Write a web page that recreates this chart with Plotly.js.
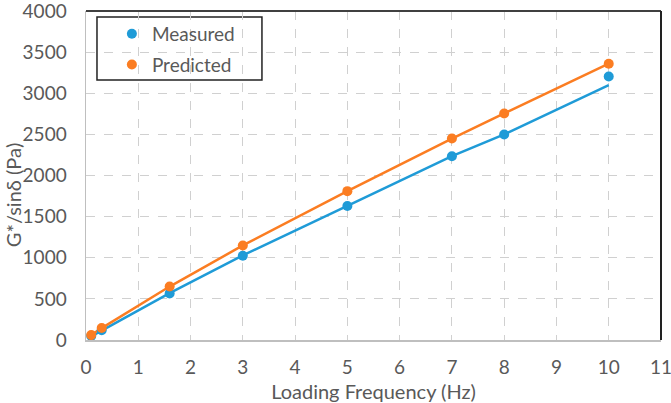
<!DOCTYPE html>
<html>
<head>
<meta charset="utf-8">
<script src="https://cdn.plot.ly/plotly-3.0.1.min.js"></script>
<style>
  html, body { margin: 0; padding: 0; background: #fff; }
  #chart { width: 671px; height: 403px; }
</style>
</head>
<body>
<div id="chart"></div>
<script>
// loading frequency (Hz)
var freq = [0.1, 0.3, 1.6, 3, 5, 7, 8, 10];
// G*/sin delta (Pa)
var measured = [48, 120, 565, 1025, 1630, 2235, 2500, 3205];
var predicted = [60, 145, 650, 1150, 1810, 2450, 2755, 3360];
// the drawn lines (measured line ends below the last point)
var measuredLine = [40, 115, 570, 1030, 1630, 2235, 2500, 3100];
var predictedLine = [60, 145, 650, 1150, 1810, 2450, 2755, 3360];

var blue = '#1f9bd7';
var orange = '#fb7d22';
var txt = '#595959';
var fam = 'Lato, "Open Sans", sans-serif';

var data = [
    {x: freq, y: measuredLine, mode: 'lines', line: {color: blue, width: 2.5}, showlegend: false, hoverinfo: 'skip'},
    {x: freq, y: predictedLine, mode: 'lines', line: {color: orange, width: 2.5}, showlegend: false, hoverinfo: 'skip'},
    {x: freq, y: measured, mode: 'markers', name: 'Measured', legendgroup: 'm',
        marker: {color: blue, size: 10}},
    {x: freq, y: predicted, mode: 'markers', name: 'Predicted', legendgroup: 'p',
        marker: {color: orange, size: 10}}
];

var tickFont = {family: fam, size: 19, color: txt};

var layout = {
    width: 671,
    height: 403,
    margin: {l: 86, r: 10, t: 11, b: 63},
    paper_bgcolor: '#fff',
    plot_bgcolor: '#fff',
    showlegend: true,
    font: {family: fam, color: txt},
    xaxis: {
        range: [0, 11],
        dtick: 1,
        tick0: 0,
        showgrid: true,
        gridcolor: '#d0d0d0',
        griddash: 'dash',
        gridwidth: 1,
        zeroline: false,
        showline: true,
        linecolor: '#bfbfbf',
        linewidth: 1.5,
        ticks: '',
        ticklabelstandoff: 10,
        ticklabeloverflow: 'allow',
        tickfont: tickFont,
        title: {text: 'Loading Frequency (Hz)', font: {size: 20, color: txt}, standoff: 8}
    },
    yaxis: {
        range: [0, 4001],
        tickvals: [0, 500, 1000, 1500, 2000, 2500, 3000, 3500, 4000],
        showgrid: true,
        gridcolor: '#d0d0d0',
        griddash: 'dash',
        gridwidth: 1,
        zeroline: false,
        showline: true,
        linecolor: '#bfbfbf',
        linewidth: 1.5,
        ticks: '',
        ticklabelstandoff: 14,
        ticklabeloverflow: 'allow',
        tickfont: tickFont
    },
    legend: {
        x: 0.045,
        y: 0.988,
        xanchor: 'left',
        yanchor: 'top',
        bgcolor: 'rgba(0,0,0,0)',
        borderwidth: 0,
        font: {size: 19, color: txt},
        itemwidth: 30,
        tracegroupgap: 3
    },
    annotations: [
        {text: 'G*/sinδ (Pa)', textangle: -90, xref: 'paper', yref: 'paper',
            x: -0.127, y: 0.44, xanchor: 'center', yanchor: 'middle', showarrow: false,
            borderpad: 0,
            font: {family: fam, size: 20, color: txt}}
    ],
    shapes: [
        // legend box
        {type: 'rect', xref: 'paper', yref: 'paper', x0: 0.0191, x1: 0.306, y0: 0.790, y1: 0.982,
            layer: 'between', fillcolor: '#fff', line: {color: '#222', width: 1.5}},
        {type: 'line', xref: 'paper', yref: 'paper', x0: 0, x1: 1, y0: 1, y1: 1, line: {color: '#404040', width: 2}},
        {type: 'line', xref: 'paper', yref: 'paper', x0: 1, x1: 1, y0: 0, y1: 1, line: {color: '#222', width: 2}}
    ]
};

Plotly.newPlot('chart', data, layout, {displayModeBar: false, staticPlot: true});
</script>
</body>
</html>
